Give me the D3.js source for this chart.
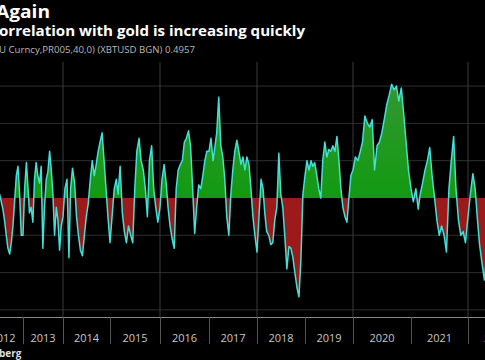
<!DOCTYPE html>
<html>
<head>
<meta charset="utf-8">
<script src="https://cdn.jsdelivr.net/npm/d3@7"></script>
<style>
  html, body { margin: 0; padding: 0; background: #000; }
  svg { display: block; }
</style>
</head>
<body>
<div id="vis"></div>
<script>
const FRAME_WIDTH = 485;
const FRAME_HEIGHT = 360;
const PLOT = { top: 62, bottom: 317 };

// 40-day correlation, two readings per month (1st and 16th)
const values2012 = [0.05, 0.1, -0.05, 0.08, 0.12, 0.02, -0.06, 0.04, 0.1, 0.03, 0.02, -0.02,
  -0.06, -0.12, -0.2, -0.27, -0.3, -0.24, -0.15, -0.02, 0.12, 0.17, 0.02, -0.2];
const values2013 = [-0.2, 0.05, 0.19, 0.05, -0.08, -0.05, -0.13, 0.1, 0.19, 0.12, 0.08, 0.17,
  -0.27, -0.05, 0.1, 0.14, 0.25, 0.15, 0.02, -0.2, -0.05, -0.12, -0.28, -0.15];
const values2014 = [-0.1, 0.05, 0.1, -0.32, 0.05, 0.16, 0.08, -0.1, -0.2, -0.28, -0.31, -0.2,
  -0.1, -0.03, 0.1, 0.2, 0.12, 0.18, 0.25, 0.3, 0.35, 0.2, 0.05, -0.1];
const values2015 = [-0.24, -0.1, 0.05, 0.1, 0.02, 0.17, -0.08, -0.18, -0.24, -0.15, -0.2, -0.24,
  0.05, 0.25, 0.32, 0.2, 0.15, 0.05, -0.1, 0.2, 0.28, 0.05, -0.05, -0.13];
const values2016 = [-0.05, 0.1, 0.18, 0.08, -0.05, -0.15, -0.22, -0.27, 0.05, 0.15, 0.18, 0.2,
  0.3, 0.32, 0.36, 0.28, 0.05, -0.19, -0.05, 0.07, 0.05, 0.12, 0.2, 0.25];
const values2017 = [0.25, 0.32, 0.2, 0.28, 0.35, 0.54, 0.28, 0.22, 0.1, -0.1, -0.2, 0.02,
  0.15, 0.25, 0.31, 0.25, 0.18, 0.22, 0.15, 0.22, 0.18, 0.05, -0.1, -0.2];
const values2018 = [-0.29, -0.1, 0.1, 0.05, -0.08, -0.18, -0.2, -0.25, -0.24, -0.12, -0.05, 0.24,
  0.02, -0.05, -0.21, -0.38, -0.26, -0.27, -0.32, -0.4, -0.48, -0.53, -0.33, 0.02];
const values2019 = [0.12, 0.2, 0.15, 0.2, 0.17, 0.19, 0.12, 0.05, 0.0, 0.2, 0.3, 0.22,
  0.26, 0.25, 0.28, 0.25, 0.33, 0.2, 0.05, -0.05, -0.1, -0.13, 0.0, 0.12];
const values2020 = [0.15, 0.22, 0.2, 0.25, 0.3, 0.44, 0.4, 0.38, 0.42, 0.15, 0.28, 0.3,
  0.35, 0.42, 0.5, 0.55, 0.61, 0.58, 0.6, 0.52, 0.59, 0.45, 0.3, 0.15];
const values2021 = [0.05, -0.02, 0.05, -0.06, 0.02, 0.08, 0.15, 0.2, 0.27, 0.12, 0.0, -0.12,
  -0.2, -0.15, -0.2, -0.29, 0.05, 0.2, 0.33, 0.05, -0.12, -0.2, -0.18, -0.24];
const values2022 = [-0.1, 0.02, 0.13, 0.05, -0.1, -0.25, -0.35, -0.44, -0.3];

const YEARS = [2012, 2013, 2014, 2015, 2016, 2017, 2018, 2019, 2020, 2021, 2022];
const SERIES = [values2012, values2013, values2014, values2015, values2016, values2017,
  values2018, values2019, values2020, values2021, values2022];
const Y_TICKS = [-0.6, -0.4, -0.2, 0.2, 0.4, 0.6];
const GRID_YEARS = [2014, 2016, 2018, 2020, 2022];

// pixel edge of each January 1st on the photographed axis (uneven spacing)
const YEAR_EDGES = [-17, 23, 63, 110, 160, 209, 257, 305, 353, 411, 468, 525];

const data = [];
YEARS.forEach((yr, k) => {
  SERIES[k].forEach((v, i) => {
    data.push({ date: new Date(yr, Math.floor(i / 2), i % 2 ? 16 : 1), value: v });
  });
});

const svg = d3.select("#vis")
  .append("svg")
  .attr("width", FRAME_WIDTH)
  .attr("height", FRAME_HEIGHT)
  .style("background", "#000");

const X_SCALE = d3.scaleTime()
  .domain(YEAR_EDGES.map((_, i) => new Date(2012 + i, 0, 1)))
  .range(YEAR_EDGES);

const Y_SCALE = d3.scaleLinear()
  .domain([-0.638, 0.729])
  .range([PLOT.bottom, PLOT.top]);

const y0 = Y_SCALE(0);

// gradient for the positive fill
const defs = svg.append("defs");
const grad = defs.append("linearGradient")
  .attr("id", "greenFill")
  .attr("gradientUnits", "userSpaceOnUse")
  .attr("x1", 0).attr("x2", 0)
  .attr("y1", PLOT.top).attr("y2", y0);
grad.append("stop").attr("offset", "0%").attr("stop-color", "#3a9636");
grad.append("stop").attr("offset", "100%").attr("stop-color", "#129a12");

defs.append("clipPath").attr("id", "above")
  .append("rect").attr("x", -20).attr("y", 0).attr("width", FRAME_WIDTH + 40).attr("height", y0);
defs.append("clipPath").attr("id", "below")
  .append("rect").attr("x", -20).attr("y", y0).attr("width", FRAME_WIDTH + 40).attr("height", FRAME_HEIGHT);

// grid
svg.append("g")
  .selectAll("line")
  .data(Y_TICKS)
  .enter()
  .append("line")
  .attr("x1", 0)
  .attr("x2", FRAME_WIDTH)
  .attr("y1", (d) => Y_SCALE(d))
  .attr("y2", (d) => Y_SCALE(d))
  .attr("stroke", "#2e2e2e")
  .attr("stroke-width", 1);

svg.append("g")
  .selectAll("line")
  .data(GRID_YEARS)
  .enter()
  .append("line")
  .attr("x1", (d) => X_SCALE(new Date(d, 0, 1)))
  .attr("x2", (d) => X_SCALE(new Date(d, 0, 1)))
  .attr("y1", PLOT.top)
  .attr("y2", PLOT.bottom)
  .attr("stroke", "#3a3a3a")
  .attr("stroke-width", 1);

// areas
const area = d3.area()
  .x((d) => X_SCALE(d.date))
  .y0(y0)
  .y1((d) => Y_SCALE(d.value));

svg.append("path")
  .datum(data)
  .attr("d", area)
  .attr("fill", "url(#greenFill)")
  .attr("clip-path", "url(#above)");

svg.append("path")
  .datum(data)
  .attr("d", area)
  .attr("fill", "#9c1a1a")
  .attr("clip-path", "url(#below)");

const line = d3.line()
  .x((d) => X_SCALE(d.date))
  .y((d) => Y_SCALE(d.value));

svg.append("path")
  .datum(data)
  .attr("d", line)
  .attr("fill", "none")
  .attr("stroke", "#42e0d6")
  .attr("stroke-width", 1.5)
  .attr("stroke-linejoin", "round");

// x axis: ticks at year boundaries, labels mid-year
const xAxis = svg.append("g")
  .attr("transform", `translate(0, ${PLOT.bottom})`)
  .call(
    d3.axisBottom(X_SCALE)
      .tickValues(YEAR_EDGES.map((_, i) => new Date(2012 + i, 0, 1)))
      .tickSize(27)
      .tickFormat("")
  );
xAxis.select(".domain").attr("stroke", "#8a8a8a").attr("d", `M-20,0.5H${FRAME_WIDTH + 20}`);
xAxis.selectAll(".tick line").attr("stroke", "#555");

svg.append("g")
  .selectAll("text")
  .data(YEARS)
  .enter()
  .append("text")
  .attr("x", (d) => (X_SCALE(new Date(d, 0, 1)) + X_SCALE(new Date(d + 1, 0, 1))) / 2)
  .attr("y", 342)
  .attr("text-anchor", "middle")
  .attr("fill", "#c8c8c8")
  .style("font-family", "'Open Sans', 'Liberation Sans', sans-serif")
  .style("font-size", "11px")
  .text((d) => d);

// titles
svg.append("text")
  .attr("x", -4)
  .attr("y", 18)
  .attr("fill", "#fff")
  .attr("textLength", 54)
  .attr("lengthAdjust", "spacingAndGlyphs")
  .style("font-family", "'Open Sans', 'Liberation Sans', sans-serif")
  .style("font-weight", "bold")
  .style("font-size", "18px")
  .text("Again");

svg.append("text")
  .attr("x", -1)
  .attr("y", 36)
  .attr("fill", "#fff")
  .attr("textLength", 306)
  .attr("lengthAdjust", "spacingAndGlyphs")
  .style("font-family", "'Open Sans', 'Liberation Sans', sans-serif")
  .style("font-weight", "bold")
  .style("font-size", "14px")
  .text("orrelation with gold is increasing quickly");

svg.append("text")
  .attr("x", -1)
  .attr("y", 53)
  .attr("fill", "#b8b8b8")
  .attr("textLength", 196)
  .attr("lengthAdjust", "spacingAndGlyphs")
  .style("font-family", "'Open Sans', 'Liberation Sans', sans-serif")
  .style("font-size", "9px")
  .text("U Curncy,PR005,40,0) (XBTUSD BGN) 0.4957");

svg.append("text")
  .attr("x", -1)
  .attr("y", 357)
  .attr("fill", "#ddd")
  .style("font-family", "'Open Sans', 'Liberation Sans', sans-serif")
  .style("font-weight", "bold")
  .style("font-size", "10px")
  .text("berg");
</script>
</body>
</html>
